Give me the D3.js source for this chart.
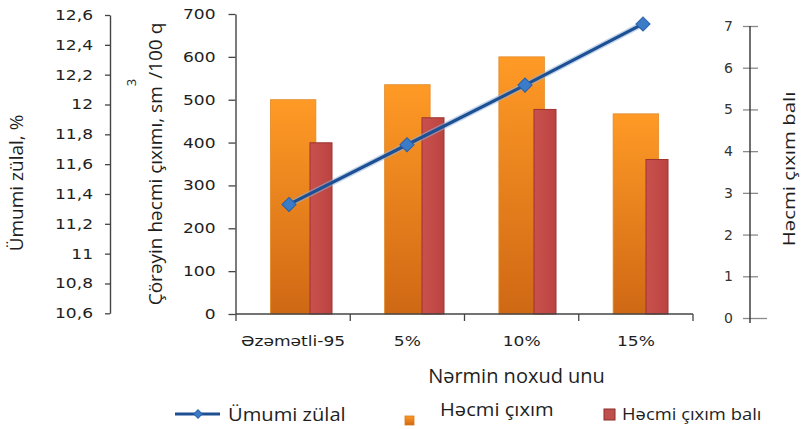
<!DOCTYPE html>
<html>
<head>
<meta charset="utf-8">
<script src="https://cdn.jsdelivr.net/npm/d3@7"></script>
<style>
  body { margin: 0; background: #fff; }
  svg { display: block; }
</style>
</head>
<body>
<svg id="chart" width="806" height="429"></svg>
<script>
// Data
const categories = ["Əzəmətli-95", "5%", "10%", "15%"];
const proteinValues = [11.33, 11.73, 12.13, 12.54];   // Ümumi zülal, %
const volumeValues = [500, 535, 600, 467];            // Həcmi çıxım, sm³/100 q
const scoreValues = [4.2, 4.8, 5.0, 3.8];             // Həcmi çıxım balı
const proteinTicks = [10.6, 10.8, 11, 11.2, 11.4, 11.6, 11.8, 12, 12.2, 12.4, 12.6];
const volumeTicks = [0, 100, 200, 300, 400, 500, 600, 700];
const scoreTicks = [0, 1, 2, 3, 4, 5, 6, 7];
const legendLabels = ["Ümumi zülal", "Həcmi çıxım", "Həcmi çıxım balı"];
const xTitle = "Nərmin noxud unu";

const svg = d3.select("#chart");
const TICK_FONT = "'DejaVu Sans', Verdana, sans-serif";
const TEXT_FONT = "'Open Sans', 'Noto Sans', sans-serif";
const INK = "#1e1e1e";

// Scales
const x = d3.scaleBand(categories, [236, 693]);
const xScore = d3.scaleBand(categories, [265, 713]);
const xLine = d3.scaleBand(categories, [230, 702]);
const yProtein = d3.scaleLinear([10.6, 12.6], [313.3, 15]);
const yVolume = d3.scaleLinear([0, 700], [314, 14]);
const yScore = d3.scaleLinear([0, 7], [318, 26]);

// widen text horizontally about its anchor
function widen(sel, k) {
  sel.each(function () {
    const t = d3.select(this);
    const tx = +(t.attr("x") || 0);
    t.attr("transform", `translate(${tx * (1 - k)},0) scale(${k},1)`);
  });
}

// Gradients
const defs = svg.append("defs");
const og = defs.append("linearGradient").attr("id", "orangeFill")
  .attr("x1", 0).attr("y1", 0).attr("x2", 0).attr("y2", 1);
og.append("stop").attr("offset", "0%").attr("stop-color", "#ff9a26");
og.append("stop").attr("offset", "100%").attr("stop-color", "#cf6814");
const rg = defs.append("linearGradient").attr("id", "redFill")
  .attr("x1", 0).attr("y1", 0).attr("x2", 1).attr("y2", 0);
rg.append("stop").attr("offset", "0%").attr("stop-color", "#c9504d");
rg.append("stop").attr("offset", "100%").attr("stop-color", "#bb4441");

// Bars: Həcmi çıxım (orange)
const barW = 45.5;
svg.append("g").selectAll("rect").data(volumeValues).join("rect")
  .attr("x", (d, i) => x(categories[i]) + x.bandwidth() / 2 - barW / 2)
  .attr("y", d => yVolume(d))
  .attr("width", barW)
  .attr("height", d => yVolume(0) - yVolume(d))
  .attr("fill", "url(#orangeFill)")
  .attr("stroke", "#e08a28").attr("stroke-width", 0.8);

// Bars: Həcmi çıxım balı (red), standing on the category axis
const scoreW = 22;
svg.append("g").selectAll("rect").data(scoreValues).join("rect")
  .attr("x", (d, i) => xScore(categories[i]) + xScore.bandwidth() / 2 - scoreW / 2)
  .attr("y", d => yScore(d))
  .attr("width", scoreW)
  .attr("height", d => yVolume(0) - yScore(d))
  .attr("fill", "url(#redFill)")
  .attr("stroke", "#9c3431").attr("stroke-width", 1);

// Left axis: Ümumi zülal
const commaFmt = d => String(+d.toFixed(1)).replace(".", ",");
const axP = svg.append("g").attr("transform", "translate(110,0)")
  .call(d3.axisLeft(yProtein).tickValues(proteinTicks).tickFormat(commaFmt)
    .tickSize(5).tickSizeOuter(0).tickPadding(12));
// Middle axis: volume
const axV = svg.append("g").attr("transform", "translate(235.5,0)")
  .call(d3.axisLeft(yVolume).tickValues(volumeTicks).tickFormat(d3.format("d"))
    .tickSize(7).tickSizeOuter(0).tickPadding(13));
[axP, axV].forEach(a => {
  a.select(".domain").attr("stroke", "#444").attr("stroke-width", 1.4);
  a.selectAll(".tick line").attr("stroke", "#444").attr("stroke-width", 1.3);
  a.selectAll(".tick text").attr("font-family", TICK_FONT).attr("font-size", 14)
    .attr("fill", INK).call(widen, 1.22);
});

// Right axis: score, ticks crossing the line
const axS = svg.append("g").attr("transform", "translate(750,0)")
  .call(d3.axisLeft(yScore).tickValues(scoreTicks).tickFormat(d3.format("d"))
    .tickSize(0).tickSizeOuter(0).tickPadding(17));
axS.select(".domain").remove();
axS.append("line").attr("y1", yScore(7)).attr("y2", yScore(0) + 5)
  .attr("stroke", "#333").attr("stroke-width", 1.4);
axS.selectAll(".tick").append("line")
  .attr("x1", -7).attr("x2", d => d === 0 ? 17 : 8)
  .attr("stroke", "#8a8a8a").attr("stroke-width", 1.3);
axS.selectAll(".tick text").attr("font-family", TICK_FONT).attr("font-size", 14)
  .attr("fill", "#333");

// Category axis
const base = yVolume(0);
svg.append("line").attr("x1", x.range()[0]).attr("x2", x.range()[1])
  .attr("y1", base).attr("y2", base).attr("stroke", "#444").attr("stroke-width", 1.4);
const bounds = categories.map(c => x(c)).concat([x.range()[1]]);
svg.append("g").selectAll("line").data(bounds).join("line")
  .attr("x1", d => d).attr("x2", d => d).attr("y1", base).attr("y2", base + 7)
  .attr("stroke", "#444").attr("stroke-width", 1.3);
const axX = svg.append("g").attr("transform", `translate(0,${base})`)
  .call(d3.axisBottom(x).tickSize(0).tickPadding(22));
axX.select(".domain").remove();
axX.selectAll(".tick text").attr("font-family", TICK_FONT).attr("font-size", 14)
  .attr("fill", INK).call(widen, 1.22);

// Line: Ümumi zülal
const lineX = (d, i) => xLine(categories[i]) + xLine.bandwidth() / 2;
const line = d3.line().x(lineX).y(d => yProtein(d));
svg.append("path").datum(proteinValues).attr("d", line)
  .attr("fill", "none").attr("stroke", "#8fb2dc").attr("stroke-width", 6).attr("opacity", 0.55);
svg.append("path").datum(proteinValues).attr("d", line)
  .attr("fill", "none").attr("stroke", "#1d4f93").attr("stroke-width", 3.2);
const diamond = d3.symbol(d3.symbolSquare, 100);
svg.append("g").selectAll("path").data(proteinValues).join("path")
  .attr("d", diamond)
  .attr("transform", (d, i) => `translate(${lineX(d, i)},${yProtein(d)}) rotate(45)`)
  .attr("fill", "#3b7bc8").attr("stroke", "#2a61a8").attr("stroke-width", 1);

// Axis titles
svg.append("text").attr("transform", "translate(23,183) rotate(-90)")
  .attr("text-anchor", "middle").attr("font-family", TEXT_FONT).attr("font-size", 19)
  .attr("fill", INK).text("Ümumi zülal, %");

const vt = svg.append("text").attr("transform", "translate(162,164) rotate(-90)")
  .attr("text-anchor", "middle").attr("font-family", TEXT_FONT).attr("font-size", 19)
  .attr("fill", INK);
vt.append("tspan").text("Çörəyin həcmi çıxımı, sm");
vt.append("tspan").attr("font-size", 13).attr("dy", -26).text("3");
vt.append("tspan").attr("dy", 26).text("/100 q");

svg.append("text").attr("transform", "translate(795,169) scale(1,1.2) rotate(-90)")
  .attr("text-anchor", "middle").attr("font-family", TEXT_FONT).attr("font-size", 17)
  .attr("fill", INK).text("Həcmi çıxım balı");

svg.append("text").attr("x", (x.range()[0] + x.range()[1]) / 2 + 52).attr("y", 383)
  .attr("text-anchor", "middle").attr("font-family", TEXT_FONT).attr("font-size", 20)
  .attr("fill", INK).text(xTitle);

// Legend
const lg = svg.append("g");
lg.append("line").attr("x1", 175).attr("x2", 220).attr("y1", 414).attr("y2", 414)
  .attr("stroke", "#1d4f93").attr("stroke-width", 3);
lg.append("path").attr("d", d3.symbol(d3.symbolSquare, 36))
  .attr("transform", "translate(198,414) rotate(45)").attr("fill", "#3b7bc8").attr("stroke", "#2a61a8");
lg.append("text").attr("x", 228).attr("y", 421).attr("font-family", TEXT_FONT).attr("font-size", 19)
  .attr("fill", INK).text(legendLabels[0]).call(widen, 1.06);
lg.append("rect").attr("x", 405).attr("y", 416).attr("width", 9).attr("height", 9)
  .attr("fill", "url(#orangeFill)").attr("stroke", "#d77a1c").attr("stroke-width", 0.8);
lg.append("text").attr("x", 440).attr("y", 416).attr("font-family", TEXT_FONT).attr("font-size", 19)
  .attr("fill", INK).text(legendLabels[1]).call(widen, 1.06);
lg.append("rect").attr("x", 604).attr("y", 409).attr("width", 11).attr("height", 11)
  .attr("fill", "#c0504d").attr("stroke", "#8b2e2b").attr("stroke-width", 1);
lg.append("text").attr("x", 622).attr("y", 420).attr("font-family", TEXT_FONT).attr("font-size", 16)
  .attr("fill", INK).text(legendLabels[2]).call(widen, 1.15);
</script>
</body>
</html>
